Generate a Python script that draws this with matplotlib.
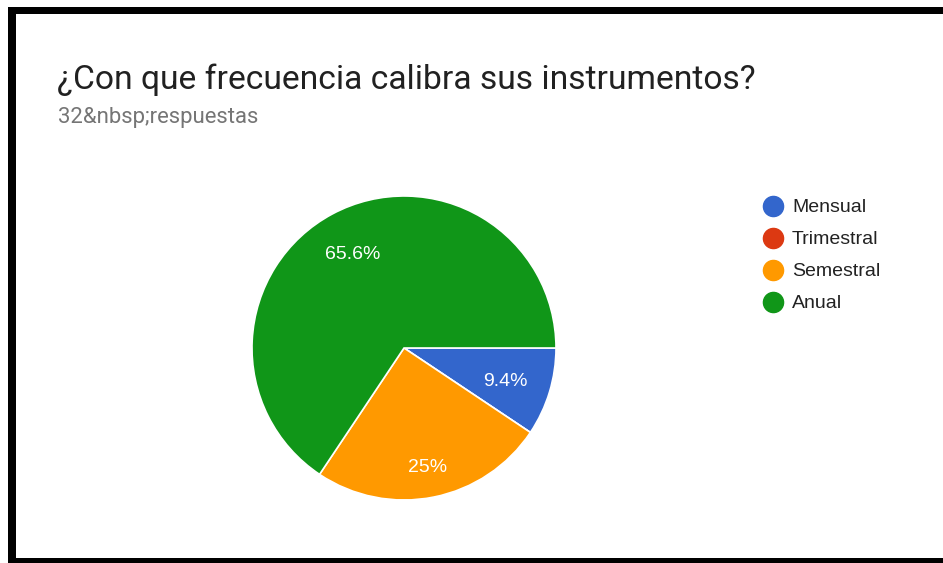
import numpy as np
import matplotlib.pyplot as plt
from matplotlib.patches import Rectangle

# data
categories = ['Mensual', 'Trimestral', 'Semestral', 'Anual']
counts = [3, 0, 8, 21]
colors = ['#3366cc', '#dc3912', '#ff9900', '#109618']
title = '¿Con que frecuencia calibra sus instrumentos?'
subtitle = '32&nbsp;respuestas'

W, H = 943, 563
fig = plt.figure(figsize=(W / 100, H / 100), dpi=100)


def px(x, y):
    return x / W, 1 - y / H


# black frame (left, top, bottom)
for (x0, y0, w, h) in [(8, 7, 8, 552), (8, 7, 935, 7), (8, 558, 935, 5)]:
    fig.add_artist(Rectangle((x0 / W, 1 - (y0 + h) / H), w / W, h / H,
                             transform=fig.transFigure, color='black', lw=0))

fig.text(*px(57, 80), title, fontsize=24.2, family='Roboto', color='#212121', va='center')
fig.text(*px(58, 118), subtitle, fontsize=15.9, family='Roboto', color='#757575', va='center')

# pie
cx, cy, r = 404, 348, 152
ax = fig.add_axes([(cx - r) / W, (H - cy - r) / H, 2 * r / W, 2 * r / H])


def fmt(p):
    if p == 0:
        return ''
    s = '%.1f' % p
    if s.endswith('.0'):
        s = s[:-2]
    return s + '%'


wedges, texts, autotexts = ax.pie(counts, colors=colors, startangle=0, counterclock=False,
                                  autopct=fmt, pctdistance=0.72,
                                  wedgeprops=dict(edgecolor='white', linewidth=1.2),
                                  textprops=dict(color='white', fontsize=14, family='Liberation Sans'))
# label radius per slice, as placed in the original
label_r = [0.70, 0.72, 0.78, 0.72]
for w, t, lr in zip(wedges, autotexts, label_r):
    a = np.deg2rad((w.theta1 + w.theta2) / 2)
    t.set_position((lr * np.cos(a), lr * np.sin(a) - 0.02))
ax.set_xlim(-1, 1)
ax.set_ylim(-1, 1)
ax.axis('off')

# legend
for i, (name, c) in enumerate(zip(categories, colors)):
    y = 206 + i * 32
    fig.text(*px(792, y + 2), name, fontsize=14, family='Liberation Sans', color='#222222', va='center')
    fig.lines.append(plt.Line2D([773 / W], [1 - y / H], marker='o', markersize=14.5,
                                color=c, transform=fig.transFigure, ls='none'))

fig.savefig('out.png', dpi=100)
